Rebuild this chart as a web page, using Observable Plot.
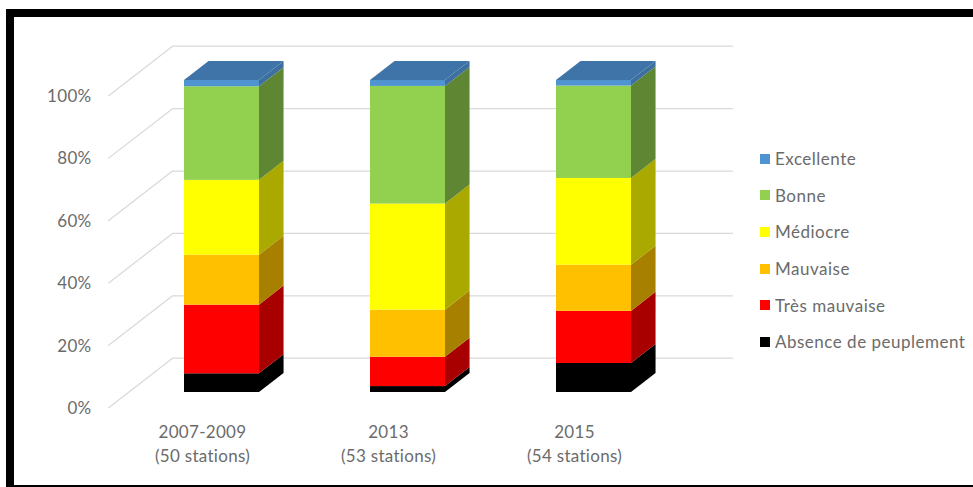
<!DOCTYPE html>
<html lang="fr">
<head>
<meta charset="utf-8">
<title>Qualité du peuplement par période</title>
<script src="https://cdn.jsdelivr.net/npm/d3@7"></script>
<script src="https://cdn.jsdelivr.net/npm/@observablehq/plot@0.6"></script>
<style>
  html, body { margin: 0; padding: 0; background: #fff; overflow: hidden; }
  #chart { position: relative; width: 973px; height: 487px; font-family: Lato, sans-serif; }
  #chart svg { display: block; position: absolute; left: 0; top: 0; background: transparent; }
  #frame {
    position: absolute; left: 6px; top: 9px; right: 0; bottom: 0;
    border-left: 8px solid #000; border-top: 8px solid #000; border-bottom: 2px solid #000;
    pointer-events: none;
  }
  #legend { position: absolute; left: 760px; top: 140.5px; color: #6b6b6b; font-size: 17px; letter-spacing: 0.5px; }
  #legend div { display: flex; align-items: center; height: 36.6px; white-space: nowrap; }
  #legend i { display: block; width: 10px; height: 10px; margin-right: 5px; }
</style>
</head>
<body>
<div id="chart"><div id="frame"></div><div id="legend"></div></div>
<script>
// Periods surveyed, and the share of stations (%) in each class from bottom to top.
const periods = ["2007-2009\n(50 stations)", "2013\n(53 stations)", "2015\n(54 stations)"];
const classes = ["Absence de peuplement", "Très mauvaise", "Mauvaise", "Médiocre", "Bonne", "Excellente"];
const share2007 = [6, 22, 16, 24, 30, 2];
const share2013 = [1.9, 9.4, 15.1, 34, 37.7, 1.9];
const share2015 = [9.3, 16.7, 14.8, 27.8, 29.6, 1.8];
const shares = [share2007, share2013, share2015];
const percentTicks = [0, 20, 40, 60, 80, 100];

// Face colours for each class: front, and the shaded side.
const frontColors = ["#000000", "#ff0000", "#ffc000", "#ffff00", "#92d050", "#4f94d0"];
const sideColors = ["#000000", "#a80000", "#a88000", "#a9a900", "#5f8733", "#3d6f9f"];
const topColor = "#3f74a8";

// Oblique projection: one unit of depth shifts a point right and up, in data units.
const halfWidth = 0.2016;
const depthX = 0.132;
const depthY = 6.1;
const wallFront = -0.8;
const wallBack = 1.8;
const wallLeft = -0.5036;
const wallRight = 2.507;
const project = (x, pct, depth) => ({x: x + depth * depthX, y: pct + depth * depthY});

// One row per stacked segment, with its cumulative bounds.
const segments = shares.flatMap((values, period) => {
  let base = 0;
  return values.map((value, k) => {
    const seg = {period, k, lo: base, hi: base + value};
    base += value;
    return seg;
  });
});

// Side faces: two vertices per segment, front edge then back edge.
const sideFaces = segments.flatMap((s) => [0, 1].map((depth) => {
  const lo = project(s.period + halfWidth, s.lo, depth);
  const hi = project(s.period + halfWidth, s.hi, depth);
  return {key: `${s.period}-${s.k}`, x: lo.x, y1: lo.y, y2: hi.y, fill: sideColors[s.k]};
}));

// Top faces: the lid of each column.
const topFaces = shares.flatMap((values, period) => [0, 1].map((depth) => {
  const a = project(period - halfWidth, d3.sum(values), depth);
  const b = project(period + halfWidth, d3.sum(values), depth);
  return {period, y: a.y, x1: a.x, x2: b.x};
}));

// Gridlines: up the side wall, then along the back wall.
const gridlines = percentTicks.flatMap((tick) => [
  {tick, ...project(wallLeft, tick, wallFront)},
  {tick, ...project(wallLeft, tick, wallBack)},
  {tick, ...project(wallRight, tick, wallBack)}
]);

const plot = Plot.plot({
  width: 973,
  height: 487,
  marginLeft: 100,
  marginRight: 0,
  marginTop: 0,
  marginBottom: 70,
  style: {fontFamily: "Lato, sans-serif", fontSize: "17px", letterSpacing: "0.3px", color: "#6b6b6b", background: "transparent"},
  x: {domain: [0, 2], range: [221.5, 593.5]},
  y: {domain: [0, 100], range: [392, 80]},
  marks: [
    Plot.line(gridlines, {x: "x", y: "y", z: "tick", stroke: "#d9d9d9", strokeWidth: 1.25}),
    Plot.area(sideFaces, {x1: "x", y1: "y1", y2: "y2", z: "key", fill: "fill"}),
    Plot.area(topFaces, {y1: "y", x1: "x1", x2: "x2", z: "period", fill: topColor}),
    Plot.rect(segments, {
      x1: (d) => d.period - halfWidth,
      x2: (d) => d.period + halfWidth,
      y1: "lo",
      y2: "hi",
      fill: (d) => frontColors[d.k]
    }),
    Plot.axisY({
      anchor: "left",
      ticks: percentTicks,
      tickFormat: (d) => `${d}%`,
      tickSize: 0,
      tickPadding: 9,
      dy: 16,
      label: null
    }),
    Plot.axisX({
      anchor: "bottom",
      ticks: [0, 1, 2],
      tickFormat: (i) => periods[i],
      tickSize: 0,
      tickPadding: 3,
      dx: -19.5,
      lineHeight: 1.42,
      label: null
    })
  ]
});

const chart = document.getElementById("chart");
chart.insertBefore(plot, chart.firstChild);

// Legend reads top to bottom, opposite to the stacking order.
const legend = document.getElementById("legend");
classes.map((name, k) => ({name, color: frontColors[k]})).reverse().forEach(({name, color}) => {
  const row = document.createElement("div");
  const swatch = document.createElement("i");
  swatch.style.background = color;
  row.append(swatch, name);
  legend.append(row);
});
</script>
</body>
</html>
